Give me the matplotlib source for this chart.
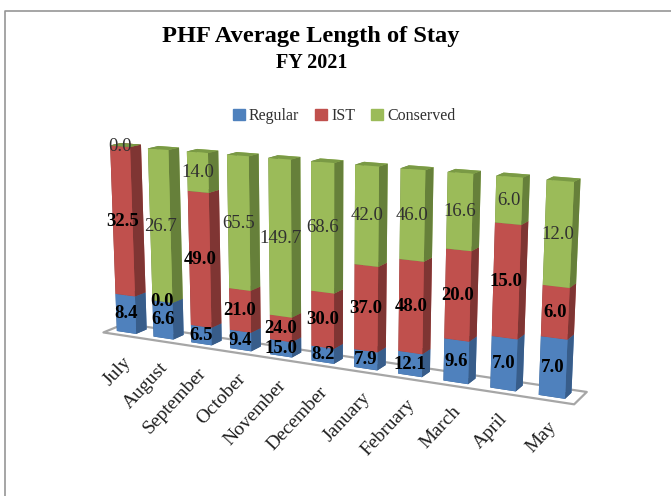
import numpy as np
import matplotlib
matplotlib.use("Agg")
import matplotlib.pyplot as plt
from matplotlib.lines import Line2D
from mpl_toolkits.mplot3d import proj3d
from mpl_toolkits.mplot3d.art3d import Poly3DCollection

months = ['July', 'August', 'September', 'October', 'November', 'December',
          'January', 'February', 'March', 'April', 'May']
regular = [8.4, 6.6, 6.5, 9.4, 15.0, 8.2, 7.9, 12.1, 9.6, 7.0, 7.0]
ist = [32.5, 0.0, 49.0, 21.0, 24.0, 30.0, 37.0, 48.0, 20.0, 15.0, 6.0]
conserved = [0.0, 26.7, 14.0, 65.5, 149.7, 68.6, 42.0, 46.0, 16.6, 6.0, 12.0]

plt.rcParams['font.family'] = ['Liberation Serif', 'DejaVu Serif']

series = [regular, ist, conserved]
names = ['Regular', 'IST', 'Conserved']
# front, top, side colour of each series
cols = [('#4f81bd', '#6d97c9', '#385d8a'),
        ('#c0504d', '#cf7371', '#7f3533'),
        ('#9bbb59', '#7a9a45', '#66803a')]

fig = plt.figure(figsize=(6.71, 4.96), dpi=100)
ax = fig.add_axes([-0.105, -0.18, 1.16, 1.27], projection='3d')
ax.set_proj_type('persp', focal_length=0.4)
ax.view_init(elev=13, azim=-63)
ax.set_box_aspect((2.9, 0.22, 1.12), zoom=0.875)
ax.set_axis_off()

n = len(months)
data = np.array(series, dtype=float)
totals = data.sum(axis=0)
share = data / totals * 100
bottoms = np.vstack([np.zeros(n), np.cumsum(share, axis=0)[:-1]])

bw = 0.53
bd = 0.5
xs, ys, zs, dxs, dys, dzs, face_cols = [], [], [], [], [], [], []
for s in range(3):
    for i in range(n):
        xs.append(i + 0.5 - bw / 2)
        ys.append(0.5 - bd / 2)
        zs.append(bottoms[s][i])
        dxs.append(bw)
        dys.append(bd)
        dzs.append(share[s][i])
        front, top, side = cols[s]
        # bar3d face order: bottom, top, front, back, left, right
        face_cols += [side, top, front, front, side, side]

ax.set_xlim(0, n)
ax.set_ylim(0, 1)
ax.set_zlim(0, 100)

# floor
floor = Poly3DCollection([[(0, 0, 0), (n, 0, 0), (n, 1, 0), (0, 1, 0)]],
                         facecolor='white', edgecolor='#a6a6a6', linewidth=1.6)
ax.add_collection3d(floor)
ax.bar3d(xs, ys, zs, dxs, dys, dzs, color=face_cols, shade=False, linewidth=0, zsort='max')


def to_2d(x, y, z):
    px, py, _ = proj3d.proj_transform(x, y, z, ax.get_proj())
    return px, py


y_front = 0.5 - bd / 2
for s in range(3):
    for i in range(n):
        z = bottoms[s][i] + share[s][i] / 2
        bold = s < 2
        px, py = to_2d(i + 0.5, y_front, z)
        ax.text2D(px, py, '%.1f' % data[s][i], transform=ax.transData, ha='center', va='center',
                  fontsize=13.5, color='black' if bold else '#303030',
                  fontweight='bold' if bold else 'normal', zorder=20)

for i, m in enumerate(months):
    px, py = to_2d(i + 0.5, y_front, 0)
    ax.annotate(m, xy=(px, py), xycoords='data', xytext=(-3, -15), textcoords='offset points',
                rotation=47, ha='right', va='top', rotation_mode='anchor',
                fontsize=14, color='#202020', zorder=20)

# title and legend
fig.text(0.4635, 0.927, 'PHF Average Length of Stay', ha='center', va='center',
         fontsize=17.6, fontweight='bold', color='black')
fig.text(0.465, 0.872, 'FY 2021', ha='center', va='center', fontsize=14.5,
         fontweight='bold', color='black')
handles = [plt.Rectangle((0, 0), 1, 1, color=c[0]) for c in cols]
fig.legend(handles, names, loc='center', bbox_to_anchor=(0.513, 0.766), ncol=3, frameon=False,
           fontsize=11.5, handlelength=0.75, handleheight=0.75, handletextpad=0.25,
           columnspacing=1.0, labelcolor='#303030')

# chart border
fig.add_artist(Line2D([0.008, 0.008, 1], [0, 0.977, 0.977], color='#969696', linewidth=1.2))

fig.savefig('out.png', dpi=100)
